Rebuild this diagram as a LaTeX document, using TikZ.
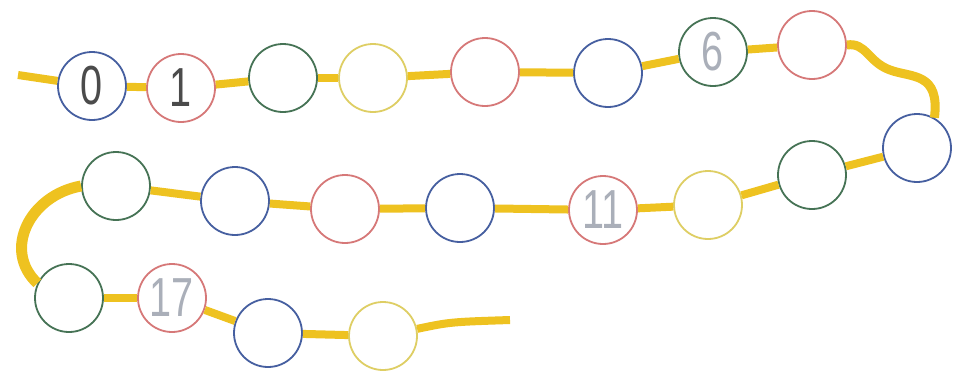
\documentclass[tikz,border=0pt]{standalone}
\usepackage{fontspec}
\setsansfont{Liberation Sans}
\usepackage{tikz}
\usetikzlibrary{calc}

\definecolor{cordyellow}{RGB}{238,194,32}
\definecolor{beadblue}{RGB}{70,95,160}
\definecolor{beadred}{RGB}{214,120,120}
\definecolor{beadgreen}{RGB}{70,115,85}
\definecolor{beadyellow}{RGB}{222,206,100}
\definecolor{inkdark}{RGB}{75,75,75}
\definecolor{inklight}{RGB}{170,175,185}

\tikzset{
  cord/.style={cordyellow, line width=8pt},
  bead/.style={circle, draw=#1, line width=1.8pt, fill=white,
    minimum size=68pt, inner sep=0pt,
    font=\sffamily\fontsize{55}{55}\selectfont},
}

\begin{document}
\begin{tikzpicture}[x=1pt, y=-1pt]

    \useasboundingbox (0,0) rectangle (953,378);

    % 1. Free ends of the cord
    \coordinate (start) at (18,75);
    \coordinate (end) at (510,320);

    % 2. Place the beads (number/x/y/colour/label)
    \foreach \n/\x/\y/\c/\t in {
        0/92/86/beadblue/{\color{inkdark}\scalebox{0.72}[1]{0}},
        1/181/88/beadred/{\color{inkdark}\scalebox{0.72}[1]{1}},
        2/283/78/beadgreen/{},
        3/373/78/beadyellow/{},
        4/485/72/beadred/{},
        5/608/73/beadblue/{},
        6/713/52/beadgreen/{\color{inklight}\scalebox{0.72}[1]{6}},
        7/812/45/beadred/{},
        8/917/148/beadblue/{},
        9/812/175/beadgreen/{},
        10/708/205/beadyellow/{},
        11/603/210/beadred/{\color{inklight}\scalebox{0.72}[1]{11}},
        12/460/208/beadblue/{},
        13/345/209/beadred/{},
        14/235/201/beadblue/{},
        15/116/186/beadgreen/{},
        16/69/298/beadgreen/{},
        17/172/298/beadred/{\color{inklight}\scalebox{0.72}[1]{17}},
        18/268/333/beadblue/{},
        19/383/336/beadyellow/{}%
    } {
        \node[bead=\c] (b\n) at (\x,\y) {\t};
    }

    % 3. Thread the cord from bead to bead
    \draw[cord] (start) -- (b0);
    \foreach \a/\b in {0/1, 1/2, 2/3, 3/4, 4/5, 5/6, 6/7,
                       8/9, 9/10, 10/11, 11/12, 12/13, 13/14, 14/15,
                       16/17, 17/18, 18/19} {
        \draw[cord] (b\a) -- (b\b);
    }
    \draw[cord] (b19) .. controls (450,322) .. (end);

    % 4. Wavy bit on the right and the loop on the left
    \draw[cord, line width=9pt] (b7.east) .. controls (866,42) and (868,62) .. (890,70)
        .. controls (912,78) and (940,72) .. (b8.60);
    \draw[cord, line width=11pt] (b15.west) .. controls (30,195) and (2,250) .. (b16.155);

\end{tikzpicture}
\end{document}
